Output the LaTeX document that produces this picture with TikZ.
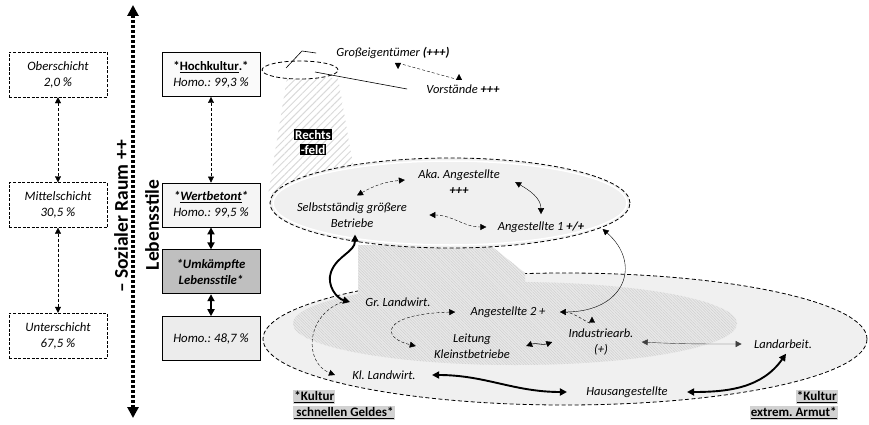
\documentclass[tikz,border=0pt]{standalone}
\usepackage{fontspec}
\setmainfont{Carlito}
\usetikzlibrary{positioning,arrows.meta,patterns.meta,shapes.geometric}
\frenchspacing

\newcommand{\blackfeld}[1]{{\setlength{\fboxsep}{1pt}\colorbox{black}{\textcolor{white}{#1}}}}
\newcommand{\grayfeld}[1]{{\setlength{\fboxsep}{1pt}\colorbox{gray!35}{\underline{#1}}}}

\begin{document}
\begin{tikzpicture}[x=1pt, y=1pt, thick, node distance=130.5pt,
  lbox/.style={draw, dash pattern=on 3pt off 1.5pt, thin, fill=white, minimum width=98pt, minimum height=45pt, align=center, font=\fontsize{12.8}{16}\selectfont\itshape},
  mbox/.style={draw, minimum width=98pt, minimum height=44pt, align=center, font=\fontsize{12.8}{16}\selectfont},
  lbl/.style={align=center, inner sep=1pt, font=\fontsize{12.5}{15.5}\selectfont\itshape},
  rand/.style={draw, dash pattern=on 4pt off 2.5pt},
  tip/.style={{Triangle[length=6pt,width=6pt]}-{Triangle[length=6pt,width=6pt]}},
  darr/.style={tip, densely dashed, thin},
  sarr/.style={tip, thin},
  barr/.style={{Triangle[length=7pt,width=7pt]}-{Triangle[length=7pt,width=7pt]}, line width=1.9pt},
  hatchlight/.style={pattern={Lines[angle=45,distance=5pt,line width=1pt]}, pattern color=gray!30},
  hatchdark/.style={preaction={fill=gray!17}, pattern={Lines[angle=-45,distance=2pt,line width=0.5pt]}, pattern color=gray!38}]

\useasboundingbox (0,0) rectangle (869,424);

% Schichten
\node[lbox] (ober) at (58,349.5) {Oberschicht\\2,0 \%};
\node[lbox, below of=ober] (mittel) {Mittelschicht\\30,5 \%};
\node[lbox, below of=mittel] (unter) {Unterschicht\\67,5 \%};
\draw[darr] (ober) -- (mittel);
\draw[darr] (mittel) -- (unter);

% Achse
\coordinate (achseoben) at (133,419);
\coordinate (achseunten) at (133,6);
\draw[line width=3.5pt, dash pattern=on 3pt off 2pt, {Triangle[length=11pt,width=11pt]}-{Triangle[length=11pt,width=11pt]}] (achseunten) -- (achseoben);
\node[rotate=90, font=\fontsize{19.5}{22}\selectfont\bfseries] (raum) at (121,207.5) {-- Sozialer Raum ++};
\node[rotate=90, font=\fontsize{19.5}{22}\selectfont\bfseries] (stile) at (152,199) {Lebensstile};

% Lebensstile
\node[mbox, fill=gray!4] (hoch) at (211,349.5) {\textbf{*\underline{Hochkultur}.*}\\\textit{Homo.: 99,3 \%}};
\node[mbox, fill=gray!8, below of=hoch] (wert) {\textbf{\textit{*\underline{Wertbetont}*}}\\\textit{Homo.: 99,5 \%}};
\node[mbox, fill=gray!50, below=22pt of wert] (umk) {\textbf{\textit{*Umkämpfte}}\\\textbf{\textit{Lebensstile*}}};
\node[mbox, fill=gray!15, below=22pt of umk] (homo) {\textit{Homo.: 48,7 \%}};
\draw[darr] (hoch) -- (wert);
\draw[barr] (wert) -- (umk);
\draw[barr] (umk) -- (homo);

% Flaechen
\node[ellipse, rand, fill=gray!12, minimum width=604pt, minimum height=132pt] (unten) at (565,85) {};
\fill[hatchdark] (358,179) -- (490,179) -- (525,151) -- (525,118) -- (358,118) -- cycle;
\node[ellipse, hatchdark, minimum width=444pt, minimum height=83pt] (kern) at (515,100.5) {};
\fill[hatchlight] (287,346) -- (338,346) -- (354,254) -- (268,229) -- cycle;
\node[ellipse, rand, fill=gray!12, minimum width=360pt, minimum height=90pt] (mitte) at (450,221) {};
\draw[white, line width=1.5pt] (mitte.center) ellipse [x radius=177, y radius=42];
\node[ellipse, rand, fill=white, minimum width=76pt, minimum height=18pt, inner sep=0pt] (kreis) at (300,354) {};
\node[align=center, inner sep=0pt, font=\fontsize{13}{15}\selectfont\bfseries] (recht) at (313,282) {\blackfeld{Rechts}\\\blackfeld{-feld}};

% Berufe oben
\node[lbl] (gross) at (393,371) {Großeigentümer \textbf{(+++)}};
\node[lbl] (vorst) at (463,335) {Vorstände \textbf{+++}};
\draw[semithick] ([shift={(-14,2)}]kreis.center) -- ++(16,17) -- ([xshift=-19]gross.west);
\draw[semithick] ([shift={(15,-2)}]kreis.center) -- ([xshift=-18]vorst.west);
\draw[darr] ([shift={(5,-16)}]gross.center) to[out=90,in=-90,looseness=0.25] ([shift={(-4,15)}]vorst.center);

% Mitte
\node[lbl] (aka) at (459,242) {Aka. Angestellte\\\textbf{+++}};
\node[lbl] (selb) at (352,209) {Selbstständig größere\\Betriebe};
\node[lbl] (ang1) at (541,197) {Angestellte 1 \textbf{+/+}};
\draw[darr] ([shift={(5,6)}]selb.north) to[out=30,in=185] ([shift={(-12,2)}]aka.west);
\draw[sarr] ([xshift=14]aka.east) to[out=-30,in=90] ([yshift=6]ang1.north);
\draw[darr] ([xshift=21]selb.east) to[out=0,in=180] ([xshift=-10]ang1.west);

% Unten
\node[lbl] (grl) at (398,122) {Gr. Landwirt.};
\node[lbl] (ang2) at (508,112) {Angestellte 2 +};
\node[lbl] (leit) at (472,78) {Leitung\\Kleinstbetriebe};
\node[lbl] (indu) at (601,82) {Industriearb.\\(+)};
\node[lbl] (landa) at (783,80) {Landarbeit.};
\node[lbl] (kll) at (384,49) {Kl. Landwirt.};
\node[lbl] (haus) at (627,32) {Hausangestellte};
\node[anchor=west, align=left, inner sep=0pt, font=\fontsize{13}{16}\selectfont\bfseries] (kultl) at (293,19) {\grayfeld{*Kultur}\\\grayfeld{\hspace{2pt}schnellen Geldes*}};
\node[anchor=east, align=right, inner sep=0pt, font=\fontsize{13}{16}\selectfont\bfseries] (kultr) at (838,19) {\grayfeld{*Kultur}\\\grayfeld{extrem. Armut*}};

\draw[barr] ([shift={(3,-6)}]selb.south) to[out=-90,in=70] (331,152) to[out=250,in=165] ([xshift=-14]grl.west);
\draw[sarr] ([shift={(17,-2)}]ang1.east) .. controls +(40,-35) and +(65,0) .. ([xshift=13]ang2.east);
\draw[densely dashed, thin, -{Triangle[length=6pt,width=6pt]}] ([xshift=-22]grl.west) .. controls +(-38,-15) and +(-30,12) .. ([xshift=-16]kll.west);
\draw[darr] ([xshift=-14]ang2.west) .. controls +(-75,-2) and +(-35,8) .. ([xshift=-17]leit.west);
\draw[densely dashed, thin, -{Triangle[length=6pt,width=6pt]}] ([xshift=18]ang2.east) to[out=0,in=-90] ([shift={(-9,11)}]indu.north);
\draw[sarr, semithick] ([xshift=15]leit.east) to[out=20,in=200] ([xshift=-15]indu.west);
\draw[sarr, black!75] ([xshift=7]indu.east) to[out=-3,in=180] ([xshift=-11]landa.west);
\draw[barr] ([xshift=15]kll.east) to[out=0,in=180] ([xshift=-18]haus.west);
\draw[barr] ([xshift=18]haus.east) to[out=0,in=235] ([shift={(3,-4)}]landa.south);
\end{tikzpicture}
\end{document}
